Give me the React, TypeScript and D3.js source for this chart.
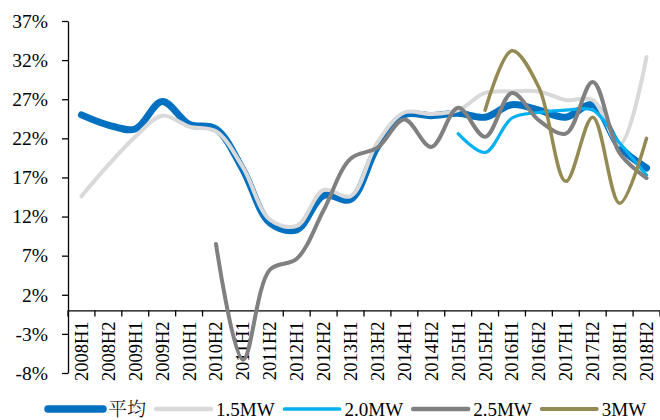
import { useEffect, useRef } from "react";
import * as d3 from "d3";

const W = 660;
const H = 420;
const PAD = { top: 21, right: 0, bottom: 47, left: 68 };

const categories = [
  "2008H1", "2008H2", "2009H1", "2009H2", "2010H1", "2010H2",
  "2011H1", "2011H2", "2012H1", "2012H2", "2013H1", "2013H2",
  "2014H1", "2014H2", "2015H1", "2015H2", "2016H1", "2016H2",
  "2017H1", "2017H2", "2018H1", "2018H2",
];

const yTicks = [-8, -3, 2, 7, 12, 17, 22, 27, 32, 37];

type V = number | null;
const n = null;

const avg: V[] = [25.0, 23.7, 23.2, 26.7, 23.8, 23.2, 18.0, 11.2, 10.3, 14.7, 14.2, 20.9, 25.0, 24.9, 25.2, 24.7, 26.3, 25.6, 24.7, 26.3, 20.9, 18.2];
const mw15: V[] = [14.6, 18.6, 22.2, 24.9, 23.5, 22.9, 18.3, 11.6, 10.8, 15.4, 14.6, 21.5, 25.3, 25.1, 25.6, 27.8, 28.0, 28.0, 26.9, 26.9, 21.2, 32.4];
const mw20: V[] = [n, n, n, n, n, n, n, n, n, n, n, n, n, n, 22.6, 20.2, 24.6, 25.3, 25.6, 25.6, 21.4, 17.3];
const mw25: V[] = [n, n, n, n, n, 8.5, -6.3, 5.2, 6.6, 12.8, 19.4, 20.8, 24.4, 20.9, 25.9, 22.2, 27.8, 24.3, 22.6, 29.2, 20.1, 16.9];
const mw3: V[] = [n, n, n, n, n, n, n, n, n, n, n, n, n, n, n, 25.6, 33.2, 28.5, 16.5, 24.7, 13.7, 22.0];

const series = [
  { name: "平均", values: avg, color: "#0070C0", width: 7 },
  { name: "1.5MW", values: mw15, color: "#D9D9D9", width: 4 },
  { name: "2.0MW", values: mw20, color: "#00B0F0", width: 3.2 },
  { name: "2.5MW", values: mw25, color: "#808080", width: 4 },
  { name: "3MW", values: mw3, color: "#948A54", width: 3.5 },
];

const FONT = "'Liberation Serif', 'Times New Roman', 'Noto Serif CJK SC', 'Noto Sans CJK SC', serif";

export default function App() {
  const svgRef = useRef<SVGSVGElement>(null);

  useEffect(() => {
    const svg = d3.select(svgRef.current);
    if (!svg.node()) return;
    svg.selectAll("*").remove();

    const x = d3
      .scaleBand()
      .domain(categories)
      .range([PAD.left, W - PAD.right]);

    const y = d3
      .scaleLinear()
      .domain([-8, 37])
      .range([H - PAD.bottom, PAD.top]);

    // y axis
    const yAxis = svg
      .append("g")
      .attr("transform", `translate(${PAD.left},0)`)
      .call(
        d3
          .axisLeft(y)
          .tickValues(yTicks)
          .tickSize(6)
          .tickPadding(14)
          .tickSizeOuter(0)
          .tickFormat((d) => `${d}%`),
      );
    yAxis.selectAll("text").style("font-family", FONT).style("font-size", "19.5px").style("fill", "#000");
    yAxis.selectAll("line, path").style("stroke", "#000").style("stroke-width", 1.3);

    // x axis at zero
    const xAxis = svg
      .append("g")
      .attr("transform", `translate(0,${y(0)})`)
      .call(d3.axisBottom(x).tickSize(0).tickSizeOuter(0));
    xAxis.select("path").style("stroke", "#000").style("stroke-width", 1.3);
    xAxis.selectAll("line").remove();
    xAxis
      .selectAll("text")
      .attr("transform", "rotate(-90)")
      .attr("x", -11)
      .attr("y", 0)
      .attr("dy", "0.35em")
      .style("text-anchor", "end")
      .style("font-family", FONT)
      .style("font-size", "18.5px")
      .style("fill", "#000");

    // ticks between categories
    const bounds = categories.map((c) => x(c)!).concat([x.range()[1]]);
    svg
      .append("g")
      .selectAll("line")
      .data(bounds)
      .enter()
      .append("line")
      .attr("x1", (d) => d)
      .attr("x2", (d) => d)
      .attr("y1", y(0))
      .attr("y2", y(0) + 6)
      .style("stroke", "#000")
      .style("stroke-width", 1.3);

    const cx = (i: number) => x(categories[i])! + x.bandwidth() / 2;

    const line = d3
      .line<V>()
      .defined((d) => d !== null)
      .x((_d, i) => cx(i))
      .y((d) => y(d as number))
      .curve(d3.curveCatmullRom.alpha(0.5));

    series.forEach((s) => {
      svg
        .append("path")
        .datum(s.values)
        .attr("d", line)
        .attr("fill", "none")
        .attr("stroke", s.color)
        .attr("stroke-width", s.width)
        .attr("stroke-linecap", "round")
        .attr("stroke-linejoin", "round");
    });

    // legend
    const legendY = 409;
    const swatch = 55;
    const legend = svg.append("g");
    let lx = 48;
    series.forEach((s) => {
      legend
        .append("line")
        .attr("x1", lx)
        .attr("x2", lx + swatch)
        .attr("y1", legendY)
        .attr("y2", legendY)
        .attr("stroke", s.color)
        .attr("stroke-width", s.width + 0.5)
        .attr("stroke-linecap", "round");
      const t = legend
        .append("text")
        .attr("x", lx + swatch + 5)
        .attr("y", legendY)
        .attr("dy", "0.35em")
        .style("font-family", FONT)
        .style("font-size", "19px")
        .style("font-weight", s.name === "平均" ? 300 : 400)
        .style("fill", "#000")
        .text(s.name);
      const tw = (t.node() as SVGTextElement).getComputedTextLength();
      lx += swatch + 5 + tw + 10;
    });
  }, []);

  return (
    <svg
      ref={svgRef}
      width={W}
      height={H}
      style={{ position: "absolute", left: 0, top: 0, background: "#fff" }}
    />
  );
}
